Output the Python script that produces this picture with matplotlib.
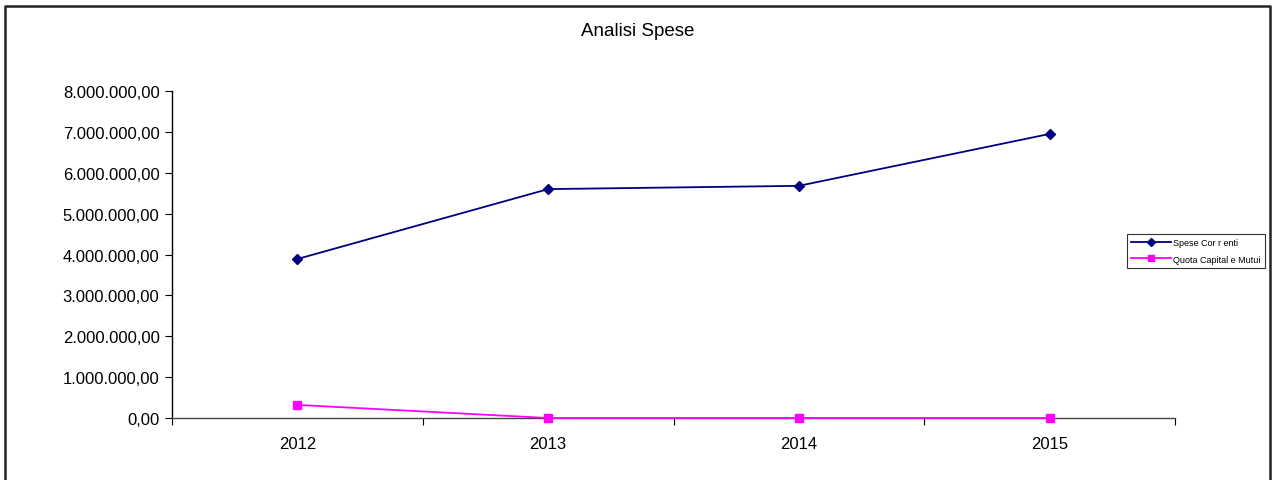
import matplotlib.pyplot as plt
from matplotlib.lines import Line2D
from matplotlib.ticker import FuncFormatter, MultipleLocator

plt.rcParams['font.family'] = ['Liberation Sans', 'DejaVu Sans']

years = ["2012", "2013", "2014", "2015"]
spese_correnti = [3890000, 5600000, 5680000, 6950000]
quota_capitale = [320000, 0, 0, 0]


def it_format(v, pos):
    s = "{:,.2f}".format(v)
    return s.replace(",", "X").replace(".", ",").replace("X", ".")


fig = plt.figure(figsize=(12.72, 4.81), dpi=100)
ax = fig.add_axes([172 / 1272, 62 / 481, 1003 / 1272, 327 / 481])

x = list(range(len(years)))
ax.plot(x, spese_correnti, color="#000080", marker="D", markersize=5,
        linewidth=1.3, label="Spese Cor r enti", clip_on=False)
ax.plot(x, quota_capitale, color="#FF00FF", marker="s", markersize=6,
        linewidth=1.3, label="Quota Capital e Mutui", clip_on=False,
        zorder=3)

ax.set_xlim(-0.5, len(years) - 0.5)
ax.set_ylim(0, 8000000)
ax.yaxis.set_major_locator(MultipleLocator(1000000))
ax.yaxis.set_major_formatter(FuncFormatter(it_format))

ax.set_xticks(x)
ax.set_xticklabels(years)
ax.set_xticks([i - 0.5 for i in range(len(years) + 1)], minor=True)
ax.tick_params(axis="x", which="major", length=0, pad=13, labelsize=12)
ax.tick_params(axis="x", which="minor", length=5, width=0.8, direction="out")
ax.tick_params(axis="y", length=5, width=0.8, direction="out", labelsize=12,
               pad=4)

for side in ("top", "right"):
    ax.spines[side].set_visible(False)
ax.spines["left"].set_linewidth(1.0)
ax.spines["bottom"].set_linewidth(1.0)
ax.spines["bottom"].set_color("#444444")

fig.text(638 / 1272, 1 - 32 / 481, "Analisi Spese", ha="center", va="center",
         fontsize=13.5)

leg = ax.legend(loc="center left", bbox_to_anchor=(1127 / 1272, 1 - 252 / 481),
                bbox_transform=fig.transFigure, fontsize=6.5, frameon=True,
                fancybox=False, edgecolor="black", handlelength=4.4,
                borderpad=0.45, labelspacing=0.8, handletextpad=0.3,
                borderaxespad=0.0, markerscale=0.8)
leg.get_frame().set_linewidth(0.8)

# outer frame of the chart
frame_x = [5 / 1272, 5 / 1272, 1270 / 1272, 1270 / 1272]
frame_y = [-0.1, 1 - 7 / 481, 1 - 7 / 481, -0.1]
fig.add_artist(Line2D(frame_x, frame_y, transform=fig.transFigure,
                      color="#222222", linewidth=1.8))

fig.savefig("out.png", dpi=100)
